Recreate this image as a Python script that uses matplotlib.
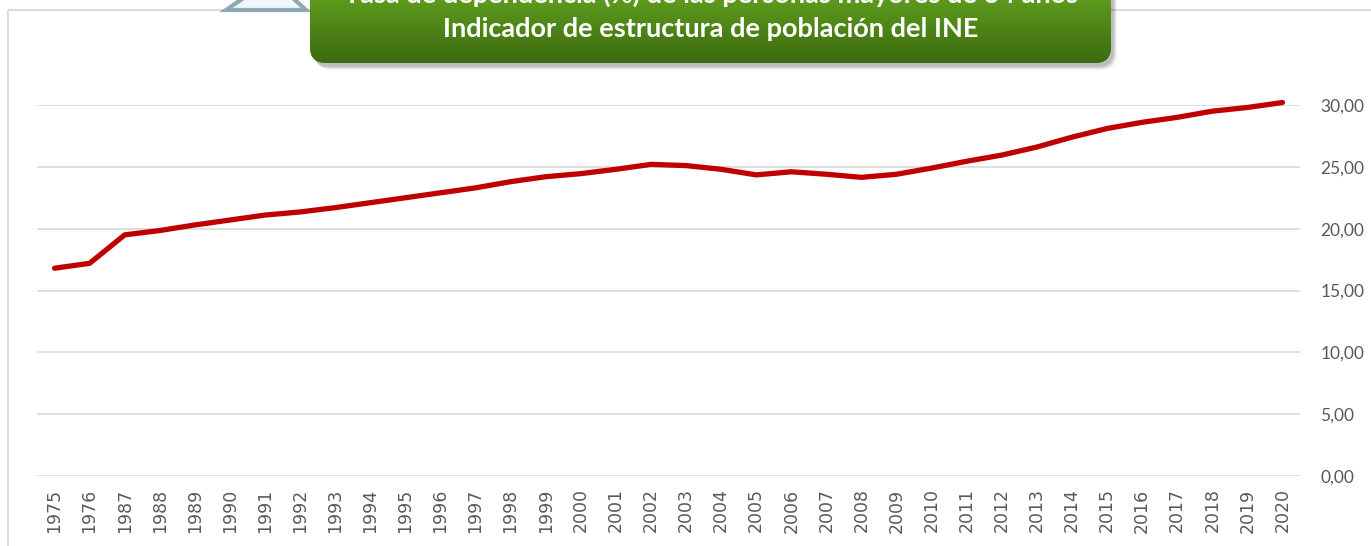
import numpy as np
import matplotlib
matplotlib.use("Agg")
import matplotlib.pyplot as plt
from matplotlib.patches import FancyBboxPatch, Polygon, Rectangle

years = ["1975", "1976", "1987", "1988", "1989", "1990", "1991", "1992", "1993",
         "1994", "1995", "1996", "1997", "1998", "1999", "2000", "2001", "2002",
         "2003", "2004", "2005", "2006", "2007", "2008", "2009", "2010", "2011",
         "2012", "2013", "2014", "2015", "2016", "2017", "2018", "2019", "2020"]
tasa = [16.8, 17.2, 19.5, 19.85, 20.3, 20.7, 21.1, 21.35, 21.7,
        22.1, 22.5, 22.9, 23.3, 23.8, 24.2, 24.45, 24.8, 25.2,
        25.1, 24.8, 24.35, 24.6, 24.4, 24.15, 24.4, 24.9, 25.45,
        25.95, 26.6, 27.4, 28.1, 28.6, 29.0, 29.5, 29.8, 30.2]
yticks = [0, 5, 10, 15, 20, 25, 30]
title_line1 = "Tasa de dependencia (%) de las personas mayores de 64 años"
title_line2 = "Indicador de estructura de población del INE"

W, H = 1371, 546
fig = plt.figure(figsize=(W / 100, H / 100), dpi=100)
fig.patch.set_facecolor("white")

# overlay axes in pixel coordinates
ov = fig.add_axes([0, 0, 1, 1], zorder=0)
ov.set_xlim(0, W)
ov.set_ylim(H, 0)
ov.axis("off")
# chart frame
ov.add_patch(Rectangle((8, 10), W + 20, H + 20, fill=False, edgecolor="#d9d9d9", lw=1.3))
# light blue shape behind the title
ov.add_patch(Polygon([(226, 10), (258, -12), (282, -12), (306, 10)], closed=True,
                     facecolor="#eef5fb", edgecolor="#8fa9b3", lw=3))

# main plot
x0, x1, yb, yt = 37, 1300, 476, 105
ax = fig.add_axes([x0 / W, 1 - yb / H, (x1 - x0) / W, (yb - yt) / H], zorder=1)
ax.patch.set_alpha(0)
n = len(years)
xs = np.arange(n)
ax.plot(xs, tasa, color="#c00000", lw=3.8, solid_capstyle="round",
        solid_joinstyle="round", clip_on=False, zorder=3)
ax.set_xlim(-0.5, n - 0.5)
ax.set_ylim(0, 30)
ax.set_yticks(yticks)
ax.set_yticklabels([f"{v:.2f}".replace(".", ",") for v in yticks],
                   fontfamily="Lato", fontsize=12.5, color="#595959")
ax.yaxis.tick_right()
ax.tick_params(axis="y", length=0, pad=14.5)
ax.set_xticks(xs)
ax.set_xticklabels(years, rotation=90, fontfamily="DejaVu Sans", fontsize=12.5,
                   color="#595959")
ax.tick_params(axis="x", length=0, pad=9)
for lab in ax.get_yticklabels():
    lab.set_horizontalalignment("left")
ax.grid(axis="y", color="#d9d9d9", lw=1.2)
ax.set_axisbelow(True)
for s in ax.spines.values():
    s.set_visible(False)

# title box
top = fig.add_axes([0, 0, 1, 1], zorder=5)
top.set_xlim(0, W)
top.set_ylim(H, 0)
top.axis("off")
bx0, bx1, by0, by1 = 310, 1111, -40, 63
for k, a in enumerate([0.10, 0.08, 0.06, 0.04]):
    top.add_patch(FancyBboxPatch((bx0 + 3 + k, by0 + 4 + k), bx1 - bx0, by1 - by0,
                                 boxstyle="round,pad=0,rounding_size=16",
                                 facecolor="black", edgecolor="none", alpha=a))
box = FancyBboxPatch((bx0, by0), bx1 - bx0, by1 - by0,
                     boxstyle="round,pad=0,rounding_size=16",
                     facecolor="#4f8418", edgecolor="none")
top.add_patch(box)
grad = np.linspace(0, 1, 256).reshape(-1, 1)
c_top = np.array([0x5c, 0x9a, 0x1c]) / 255
c_bot = np.array([0x3d, 0x6a, 0x10]) / 255
img = c_top + (c_bot - c_top) * grad[:, :, None]
im = top.imshow(img, extent=(bx0, bx1, by1, 0), aspect="auto", zorder=2)
im.set_clip_path(box)
top.set_xlim(0, W)
top.set_ylim(H, 0)
top.text(711, -6, title_line1, ha="center", va="center", color="white",
         fontfamily="Lato", fontweight="bold", fontsize=19.5, zorder=3)
top.text(711, 29, title_line2, ha="center", va="center", color="white",
         fontfamily="Lato", fontweight="bold", fontsize=19.5, zorder=3)

fig.savefig("out.png", dpi=100)
